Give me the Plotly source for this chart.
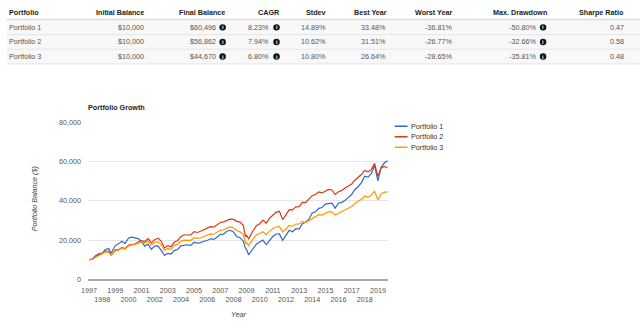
import plotly.graph_objects as go

W, H = 640, 329


def px(x):
    return x / W


def py(y):
    return 1 - y / H


# ---------------- data ----------------
dates = [
    "1997-01-01", "1997-03-31", "1997-06-30", "1997-09-30", "1997-12-31",
    "1998-03-31", "1998-06-30", "1998-08-31", "1998-09-30", "1998-12-31",
    "1999-03-31", "1999-06-30", "1999-09-30", "1999-12-31",
    "2000-03-31", "2000-06-30", "2000-09-30", "2000-12-31",
    "2001-03-31", "2001-06-30", "2001-09-30", "2001-12-31",
    "2002-03-31", "2002-06-30", "2002-09-30", "2002-12-31",
    "2003-03-31", "2003-06-30", "2003-09-30", "2003-12-31",
    "2004-03-31", "2004-06-30", "2004-09-30", "2004-12-31",
    "2005-03-31", "2005-06-30", "2005-09-30", "2005-12-31",
    "2006-03-31", "2006-06-30", "2006-09-30", "2006-12-31",
    "2007-03-31", "2007-06-30", "2007-09-30", "2007-12-31",
    "2008-03-31", "2008-06-30", "2008-09-30", "2008-11-30", "2008-12-31",
    "2009-02-28", "2009-03-31", "2009-06-30", "2009-09-30", "2009-12-31",
    "2010-03-31", "2010-06-30", "2010-09-30", "2010-12-31",
    "2011-03-31", "2011-06-30", "2011-09-30", "2011-12-31",
    "2012-03-31", "2012-06-30", "2012-09-30", "2012-12-31",
    "2013-03-31", "2013-06-30", "2013-09-30", "2013-12-31",
    "2014-03-31", "2014-06-30", "2014-09-30", "2014-12-31",
    "2015-03-31", "2015-06-30", "2015-09-30", "2015-12-31",
    "2016-03-31", "2016-06-30", "2016-09-30", "2016-12-31",
    "2017-03-31", "2017-06-30", "2017-09-30", "2017-12-31",
    "2018-03-31", "2018-06-30", "2018-09-30", "2018-12-31",
    "2019-03-31", "2019-06-30", "2019-09-30",
]

portfolio_1 = [
    10000, 10280, 12070, 12970, 13350,
    15230, 15740, 13320, 14180, 17210,
    18090, 19400, 18210, 20940,
    21470, 20930, 20750, 19160,
    16910, 17920, 15310, 16960,
    17020, 14760, 12210, 13240,
    12810, 14800, 15190, 17030,
    17320, 17630, 17310, 18900,
    18500, 18740, 19420, 19810,
    20650, 20340, 21500, 22920,
    23070, 24510, 25020, 24160,
    21870, 21250, 19450, 15700, 15130,
    12350, 13430, 15530, 17950, 19020,
    20030, 17740, 19720, 21840,
    23130, 23140, 19900, 22240,
    25000, 24290, 25820, 25660,
    28360, 29160, 30680, 33860,
    34450, 36230, 36620, 38410,
    38750, 38830, 36300, 38820,
    39300, 40220, 41730, 43290,
    45890, 47270, 49360, 52640,
    52220, 53980, 58140, 50240,
    57050, 59490, 60496,
]

portfolio_2 = [
    10000, 10150, 11400, 12600, 13150,
    14400, 14300, 12400, 12900, 15000,
    15100, 16200, 15700, 17300,
    17900, 18000, 19000, 19700,
    19300, 20800, 18600, 20200,
    21000, 19500, 16000, 17200,
    16600, 19000, 19700, 21800,
    22600, 22500, 22600, 24300,
    23900, 24500, 25300, 25700,
    26900, 26600, 27600, 29000,
    29300, 30200, 30700, 30600,
    29600, 29200, 27600, 21600, 22400,
    20700, 21800, 24800, 27400, 28400,
    30200, 28600, 31200, 32800,
    34200, 34700, 30500, 32900,
    35600, 35400, 37000, 37100,
    39300, 39200, 41000, 42700,
    43300, 44600, 44100, 45200,
    45900, 45600, 43300, 44700,
    45400, 46600, 47800, 48600,
    50600, 51900, 53500, 55600,
    54900, 56000, 59200, 52600,
    56900, 57600, 56862,
]

portfolio_3 = [
    10000, 10100, 11200, 12100, 12660,
    13900, 13900, 12300, 12800, 14600,
    14900, 15800, 15400, 17000,
    17600, 17700, 18400, 19200,
    18500, 19600, 17500, 18800,
    19200, 17600, 14700, 15700,
    15200, 17300, 17800, 19500,
    20000, 19900, 19900, 21200,
    20900, 21200, 21800, 22300,
    23200, 23000, 23900, 25000,
    25300, 26200, 26700, 26300,
    24900, 24300, 22800, 18100, 18770,
    17150, 18100, 20600, 22600, 23300,
    24300, 22800, 24600, 25800,
    26700, 27000, 24200, 25700,
    27400, 27100, 28200, 28300,
    29500, 29000, 30000, 31000,
    31600, 33000, 32800, 33700,
    34500, 34300, 32800, 33700,
    34600, 35600, 36500, 37200,
    38700, 39600, 40900, 42500,
    41900, 42800, 45000, 40500,
    43600, 44500, 44670,
]

series_names = ["Portfolio 1", "Portfolio 2", "Portfolio 3"]
series_values = [portfolio_1, portfolio_2, portfolio_3]
series_colors = ["#3366cc", "#dc3912", "#ff9900"]

years = list(range(1997, 2020))
y_ticks = [0, 20000, 40000, 60000, 80000]

# table data
table_headers = ["Portfolio", "Initial Balance", "Final Balance", "CAGR", "Stdev",
                 "Best Year", "Worst Year", "Max. Drawdown", "Sharpe Ratio"]
initial_balance = ["$10,000", "$10,000", "$10,000"]
final_balance = ["$60,496", "$56,862", "$44,670"]
cagr = ["8.23%", "7.94%", "6.80%"]
stdev = ["14.89%", "10.62%", "10.80%"]
best_year = ["33.48%", "31.51%", "26.64%"]
worst_year = ["-36.81%", "-26.77%", "-28.65%"]
max_drawdown = ["-50.80%", "-32.66%", "-35.81%"]
sharpe = ["0.47", "0.58", "0.48"]

FONT = "Liberation Sans, Arial, Helvetica, sans-serif"

fig = go.Figure()
for name, vals, col in zip(series_names, series_values, series_colors):
    fig.add_trace(go.Scatter(x=dates, y=vals, mode="lines", name=name,
                             line=dict(color=col, width=1.2), showlegend=False,
                             hoverinfo="skip"))

ticktext = [str(y) if y % 2 == 1 else "<br>" + str(y) for y in years]
tickvals = [f"{y}-01-01" for y in years]

fig.update_layout(
    width=W, height=H,
    margin=dict(l=0, r=0, t=0, b=0),
    paper_bgcolor="white", plot_bgcolor="white",
    font=dict(family=FONT, size=7, color="#444"),
    xaxis=dict(domain=[px(82), px(385)], type="date",
               range=["1996-12-05", "2019-10-03"],
               tickmode="array", tickvals=tickvals, ticktext=ticktext,
               tickangle=0,
               showgrid=False, zeroline=False, showline=True,
               linecolor="#aaaaaa", linewidth=1.5, ticks="",
               tickfont=dict(family=FONT, size=7.2, color="#555"),
               ticklabelstandoff=3),
    yaxis=dict(domain=[py(283), py(122)], range=[0, 80000],
               tickmode="array", tickvals=y_ticks, tickformat=",",
               showgrid=True, gridcolor="#e6e6e6", gridwidth=1,
               zeroline=False, showline=False, ticks="",
               tickfont=dict(family=FONT, size=7.2, color="#555"),
               ticklabelstandoff=6),
)

shapes = []
annotations = []


def text(x, y, s, anchor="left", size=7, color="#444", bold=False, italic=False, angle=0):
    if bold:
        s = "<b>" + s + "</b>"
    if italic:
        s = "<i>" + s + "</i>"
    annotations.append(dict(x=px(x), y=py(y), xref="paper", yref="paper", text=s,
                            showarrow=False, xanchor=anchor, yanchor="middle",
                            font=dict(family=FONT, size=size, color=color),
                            borderpad=0, borderwidth=0, textangle=angle))


# ---------------- table ----------------
header_y = 8.3
row_ys = [24, 39, 54]
shapes.append(dict(type="rect", xref="paper", yref="paper", x0=0, x1=1,
                   y0=py(61.5), y1=py(16), fillcolor="#f8f8f8", line=dict(width=0), layer="below"))
shapes.append(dict(type="line", xref="paper", yref="paper", x0=0, x1=1,
                   y0=py(16), y1=py(16), line=dict(color="#dddddd", width=1.5)))
for yy in [31.5, 46.5, 61.5]:
    shapes.append(dict(type="line", xref="paper", yref="paper", x0=0, x1=1,
                       y0=py(yy), y1=py(yy), line=dict(color="#e6e6e6", width=1)))

header_x = [(2, "left"), (139, "right"), (220, "right"), (276, "right"), (323, "right"),
            (384, "right"), (450, "right"), (546, "right"), (624, "right")]
for h, (hx, anc) in zip(table_headers, header_x):
    text(hx, header_y, h, anchor=anc, size=7.2, color="#222", bold=True)

columns = [
    (series_names, 2, "left", None),
    (initial_balance, 139, "right", None),
    (final_balance, 211, "right", 218),
    (cagr, 265, "right", 272.5),
    (stdev, 323, "right", None),
    (best_year, 383, "right", None),
    (worst_year, 450, "right", None),
    (max_drawdown, 535, "right", 542),
    (sharpe, 624, "right", None),
]
for vals, cx, anc, icon_x in columns:
    for v, ry in zip(vals, row_ys):
        text(cx, ry, v, anchor=anc, size=7.2, color="#555")
        if icon_x is not None:
            r = 3.3
            shapes.append(dict(type="circle", xref="paper", yref="paper",
                               x0=px(icon_x - r), x1=px(icon_x + r),
                               y0=py(ry + r), y1=py(ry - r),
                               fillcolor="#111", line=dict(width=0)))
            text(icon_x, ry, "i", anchor="center", size=5.5, color="white", bold=True)

# ---------------- chart texts ----------------
text(82, 106, "Portfolio Growth", anchor="left", size=7.2, color="#222", bold=True)
text(28, 200, "Portfolio Balance ($)", anchor="center", size=7.2, color="#444", italic=True, angle=-90)
text(234.5, 319, "Year", anchor="center", size=7.2, color="#444", italic=True)

# legend
leg_ys = [125.7, 136.5, 147.3]
for name, col, ly in zip(series_names, series_colors, leg_ys):
    shapes.append(dict(type="line", xref="paper", yref="paper", x0=px(392), x1=px(405),
                       y0=py(ly), y1=py(ly), line=dict(color=col, width=1.5)))
    text(408, ly, name, anchor="left", size=7.2, color="#333")

fig.update_layout(shapes=shapes, annotations=annotations)
fig.write_html("out.html")
